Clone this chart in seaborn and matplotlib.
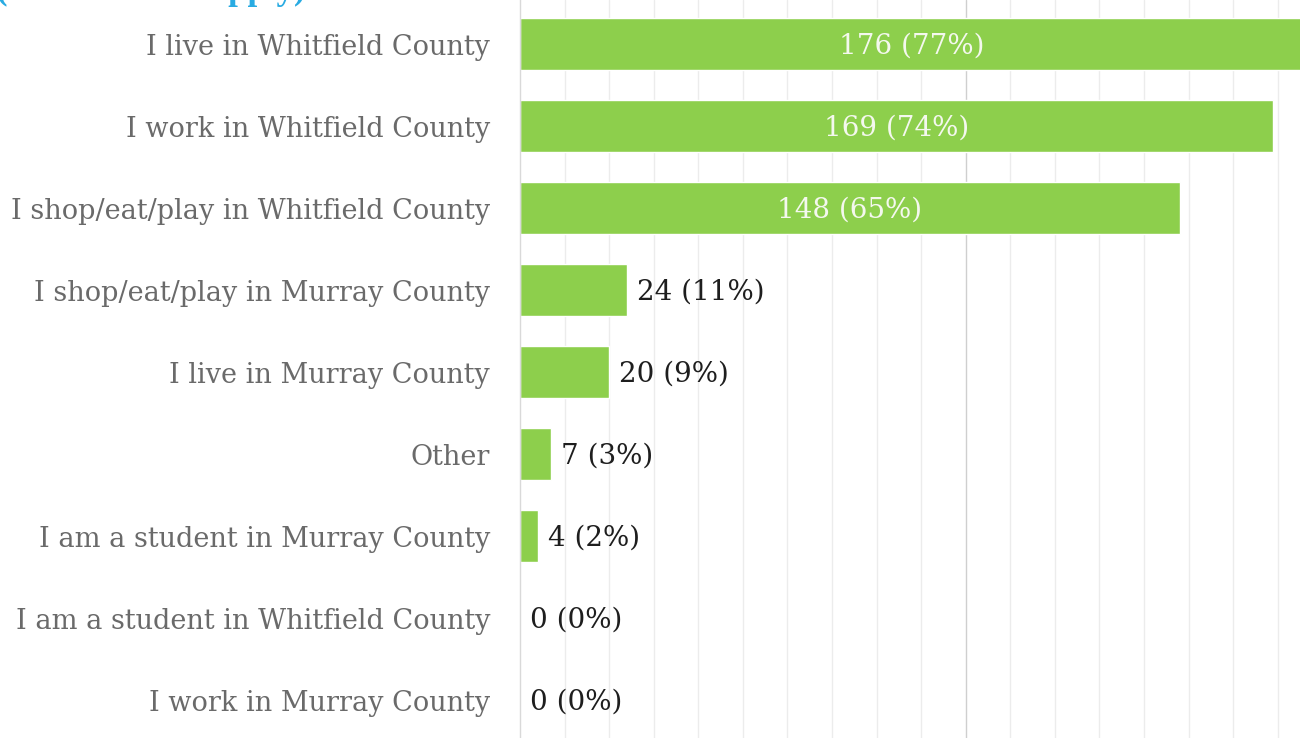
import matplotlib
matplotlib.use("Agg")
import matplotlib.pyplot as plt
import seaborn as sns
import pandas as pd

categories = [
    "I live in Whitfield County",
    "I work in Whitfield County",
    "I shop/eat/play in Whitfield County",
    "I shop/eat/play in Murray County",
    "I live in Murray County",
    "Other",
    "I am a student in Murray County",
    "I am a student in Whitfield County",
    "I work in Murray County",
]
counts = [176, 169, 148, 24, 20, 7, 4, 0, 0]
percents = [77, 74, 65, 11, 9, 3, 2, 0, 0]
title_text = "(select all that apply)"

df = pd.DataFrame({"category": categories, "count": counts})

sns.set_theme(style="white")
plt.rcParams["font.family"] = ["DejaVu Serif"]

fig = plt.figure(figsize=(13, 7.38), dpi=100)
ax = fig.add_axes([0.4, 0.0, 0.6, 1.0])

# light vertical grid every 10 responses, a darker one at 100
for x in range(10, 180, 10):
    ax.axvline(x, color="#cfcfcf" if x == 100 else "#ececec", lw=1.0, zorder=0)

sns.barplot(data=df, x="count", y="category", orient="h", color="#8dcf4c",
            saturation=1, width=0.64, ax=ax, zorder=2)

ax.set_xlim(0, 175)
ax.set_ylim(8.463, -0.537)
ax.set_xlabel("")
ax.set_ylabel("")
ax.set_xticks([])
for s in ["top", "right", "bottom"]:
    ax.spines[s].set_visible(False)
ax.spines["left"].set_color("#d9d9d9")
ax.spines["left"].set_linewidth(1.0)
ax.tick_params(axis="y", length=0, pad=21.5, labelsize=19.5, labelcolor="#6a6a6a")

for i, (c, p) in enumerate(zip(counts, percents)):
    label = f"{c} ({p}%)"
    if c > 100:
        ax.text(c / 2, i + 0.02, label, ha="center", va="center", color="#f4f8ee",
                fontsize=20, zorder=3)
    else:
        ax.text(c + 2.2, i + 0.02, label, ha="left", va="center", color="#1e1e1e",
                fontsize=20, zorder=3)

fig.text(-0.003, 1.002, title_text, ha="left", va="baseline", color="#29abe2",
         fontsize=25, fontweight="bold", family="Liberation Serif")

fig.savefig("out.png", dpi=100)
